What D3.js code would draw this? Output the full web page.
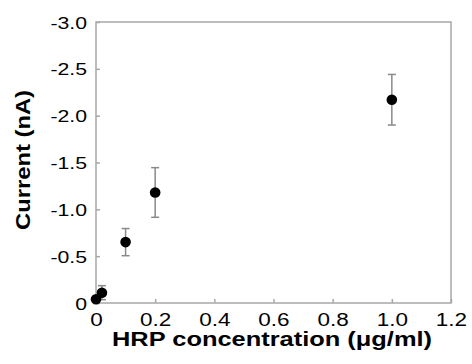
<!DOCTYPE html>
<html>
<head>
<meta charset="utf-8">
<script src="https://cdn.jsdelivr.net/npm/d3@7"></script>
<style>
  body { margin: 0; background: #fff; }
  text { font-family: "Liberation Sans", Arial, sans-serif; }
</style>
</head>
<body>
<div id="chart"></div>
<script>
// HRP concentration (ug/ml) vs current (nA)
const concentration = [0, 0.02, 0.1, 0.2, 1.0];
const current = [-0.04, -0.11, -0.65, -1.18, -2.17];
const currentErr = [0.01, 0.075, 0.145, 0.265, 0.27];
const xTicks = [0, 0.2, 0.4, 0.6, 0.8, 1.0, 1.2];
const yTicks = [0, -0.5, -1.0, -1.5, -2.0, -2.5, -3.0];

const width = 472, height = 364;
const margin = { top: 22, right: 21, bottom: 61, left: 96 };
const stretch = 1.25; // the labels in the figure are drawn wide

const svg = d3.select('#chart')
  .append('svg')
  .attr('width', width)
  .attr('height', height);

const x = d3.scaleLinear()
  .domain([0, 1.2])
  .range([margin.left, width - margin.right]);
const y = d3.scaleLinear()
  .domain([0, -3])
  .range([height - margin.bottom, margin.top]);

const axisColor = '#a8a8a8';
// plain hyphen for the minus sign, like the original figure
const fmt = d => d === 0 ? '0' : d.toFixed(1);

const gx = svg.append('g')
  .attr('transform', `translate(0,${height - margin.bottom})`)
  .call(d3.axisBottom(x).tickValues(xTicks).tickFormat(fmt).tickSizeInner(-4).tickSizeOuter(0));
gx.select('.domain').remove();
gx.selectAll('.tick line').attr('stroke', axisColor).attr('stroke-width', 1.5);
gx.selectAll('.tick text')
  .attr('y', 23).attr('dy', null)
  .attr('transform', `scale(${stretch},1)`)
  .attr('fill', '#000')
  .style('font-size', '18px');

const gy = svg.append('g')
  .attr('transform', `translate(${margin.left},0)`)
  .call(d3.axisLeft(y).tickValues(yTicks).tickFormat(fmt).tickSizeInner(-4).tickSizeOuter(0));
gy.select('.domain').remove();
gy.selectAll('.tick line').attr('stroke', axisColor).attr('stroke-width', 1.5);
gy.selectAll('.tick text')
  .attr('x', -9 / stretch)
  .attr('dy', '0.36em')
  .attr('transform', `scale(${stretch},1)`)
  .attr('fill', '#000')
  .style('font-size', '17px');

// frame
svg.append('rect')
  .attr('x', x(0)).attr('y', y(-3))
  .attr('width', x(1.2) - x(0))
  .attr('height', y(0) - y(-3))
  .attr('fill', 'none')
  .attr('stroke', axisColor)
  .attr('stroke-width', 1.5);

const points = concentration.map((c, i) => ({ c, v: current[i], e: currentErr[i] }));

// error bars
const eb = svg.append('g').attr('stroke', '#8a8a8a').attr('stroke-width', 1.5);
eb.selectAll('line.v')
  .data(points).enter().append('line')
  .attr('x1', d => x(d.c)).attr('x2', d => x(d.c))
  .attr('y1', d => y(d.v - d.e)).attr('y2', d => y(d.v + d.e));
[-1, 1].forEach(s => {
  eb.selectAll(null)
    .data(points).enter().append('line')
    .attr('x1', d => x(d.c) - 4).attr('x2', d => x(d.c) + 4)
    .attr('y1', d => y(d.v + s * d.e)).attr('y2', d => y(d.v + s * d.e));
});

svg.append('g')
  .selectAll('circle')
  .data(points).enter().append('circle')
  .attr('cx', d => x(d.c))
  .attr('cy', d => y(d.v))
  .attr('r', 5.3)
  .attr('fill', '#000');

// axis titles
svg.append('text')
  .attr('x', 272).attr('y', 346)
  .attr('text-anchor', 'middle')
  .attr('textLength', 320)
  .attr('lengthAdjust', 'spacingAndGlyphs')
  .style('font-size', '20px').style('font-weight', 'bold')
  .text('HRP concentration (μg/ml)');

svg.append('text')
  .attr('transform', 'translate(30,160) rotate(-90)')
  .attr('text-anchor', 'middle')
  .attr('textLength', 140)
  .attr('lengthAdjust', 'spacingAndGlyphs')
  .style('font-size', '20px').style('font-weight', 'bold')
  .text('Current (nA)');
</script>
</body>
</html>
